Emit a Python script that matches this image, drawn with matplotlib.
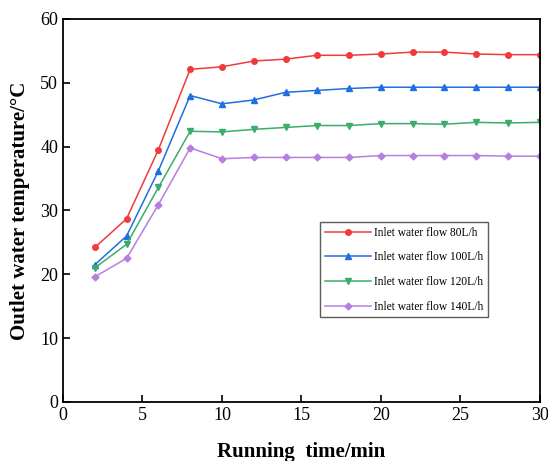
import matplotlib.pyplot as plt

plt.rcParams['font.family'] = ['Liberation Serif', 'DejaVu Serif']

# running time (min)
time_min = [2, 4, 6, 8, 10, 12, 14, 16, 18, 20, 22, 24, 26, 28, 30]

# outlet water temperature for each inlet flow
flow80 = [24.2, 28.7, 39.5, 52.1, 52.5, 53.4, 53.7, 54.3, 54.3, 54.5, 54.8, 54.8, 54.5, 54.4, 54.4]
flow100 = [21.5, 26.0, 36.2, 48.0, 46.7, 47.3, 48.5, 48.8, 49.1, 49.3, 49.3, 49.3, 49.3, 49.3, 49.3]
flow120 = [21.0, 24.7, 33.6, 42.4, 42.3, 42.7, 43.0, 43.3, 43.3, 43.6, 43.6, 43.5, 43.8, 43.7, 43.8]
flow140 = [19.6, 22.5, 30.9, 39.8, 38.1, 38.3, 38.3, 38.3, 38.3, 38.6, 38.6, 38.6, 38.6, 38.5, 38.5]

labels = ['Inlet water flow 80L/h', 'Inlet water flow 100L/h',
          'Inlet water flow 120L/h', 'Inlet water flow 140L/h']

fig = plt.figure(figsize=(5.48, 4.61), dpi=100)
ax = fig.add_axes([0.115, 0.128, 0.870, 0.831])

ax.plot(time_min, flow80, color='#f03a3c', marker='o', ms=4, lw=1.1, label=labels[0])
ax.plot(time_min, flow100, color='#1f6fe0', marker='^', ms=5, lw=1.1, label=labels[1])
ax.plot(time_min, flow120, color='#3aad6a', marker='v', ms=5, lw=1.1, label=labels[2])
ax.plot(time_min, flow140, color='#b77ee0', marker='D', ms=3.5, lw=1.1, label=labels[3])

ax.set_xlim(0, 30)
ax.set_ylim(0, 60)
ax.set_xticks(range(0, 31, 5))
ax.set_yticks(range(0, 61, 10))
ax.tick_params(direction='in', labelsize=13, length=5, width=1.2, top=False, right=False)
for s in ax.spines.values():
    s.set_linewidth(1.3)

ax.set_xlabel('Running  time/min', fontsize=15, fontweight='bold', labelpad=13)
ax.set_ylabel('Outlet water temperature/\u00b0C', fontsize=15, fontweight='bold', labelpad=7)

leg = ax.legend(loc='upper left', bbox_to_anchor=(0.539, 0.47), borderaxespad=0,
                fontsize=8.3, frameon=True, fancybox=False, edgecolor='#333333',
                handlelength=4, handletextpad=0.3, labelspacing=1.1)
leg.get_frame().set_linewidth(1.0)

fig.savefig('out.png', dpi=100)
